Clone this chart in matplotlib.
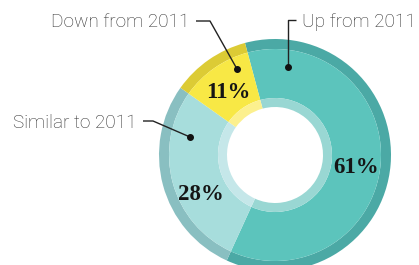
import matplotlib.pyplot as plt

W, H = 419, 265

LABELS = ["Up from 2011", "Similar to 2011", "Down from 2011"]
SHARES = [61, 28, 11]
MAIN = ["#5cc4bc", "#a7dddc", "#f8e845"]
RIM = ["#4ba9a5", "#89bfc1", "#dccb35"]
INNER = ["#99d7d3", "#c5e7e9", "#fcf08e"]

CX, CY = 275, H - 155
R_OUT, R_RIM, R_IN, R_HOLE = 116, 106, 57, 48

fig = plt.figure(figsize=(W / 100, H / 100), dpi=100)
ax = fig.add_axes([0, 0, 1, 1])

common = dict(startangle=105, counterclock=False, center=(CX, CY), frame=True)
ax.pie(SHARES, colors=RIM, radius=R_OUT,
       wedgeprops=dict(width=R_OUT - R_RIM, linewidth=0), **common)
ax.pie(SHARES, colors=MAIN, radius=R_RIM,
       wedgeprops=dict(width=R_RIM - R_IN, linewidth=0), **common)
ax.pie(SHARES, colors=INNER, radius=R_IN,
       wedgeprops=dict(width=R_IN - R_HOLE, linewidth=0), **common)
ax.set_xlim(0, W)
ax.set_ylim(0, H)
ax.set_aspect("equal")
ax.axis("off")

lab_font = dict(family="Roboto", weight="light", fontsize=13.7, color="#2e2e2e")
pct_font = dict(family="Liberation Serif", weight="bold", fontsize=16.5, color="#151515")

# callouts: (text anchor, ha, polyline in pixel coords)
callouts = [
    ((302, 27), "left", [(296, 20), (288, 20), (288, 67)]),
    ((137, 128), "right", [(143, 121), (153, 121), (190, 137)]),
    ((189, 27), "right", [(196, 21), (210, 21), (237, 69)]),
]
for label, ((tx, ty), ha, pts) in zip(LABELS, callouts):
    ax.text(tx, H - ty, label, ha=ha, va="baseline", **lab_font)
    xs = [p[0] for p in pts]
    ys = [H - p[1] for p in pts]
    ax.plot(xs, ys, color="#222222", lw=1.0, solid_capstyle="butt")
    ax.plot(xs[-1], ys[-1], "o", color="#111111", ms=4)

pct_pos = [(356, 173), (201, 200), (228, 98)]
for share, (px, py) in zip(SHARES, pct_pos):
    ax.text(px, H - py, f"{share}%", ha="center", va="baseline", **pct_font)

fig.savefig("out.png", dpi=100)
